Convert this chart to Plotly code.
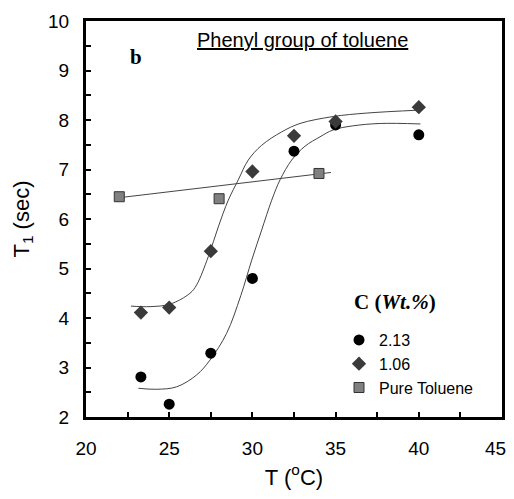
import plotly.graph_objects as go

# Measured data
temp_213 = [23.3, 25.0, 27.5, 30.0, 32.5, 35.0, 40.0]
t1_213 = [2.81, 2.26, 3.29, 4.80, 7.37, 7.90, 7.70]

temp_106 = [23.3, 25.0, 27.5, 30.0, 32.5, 35.0, 40.0]
t1_106 = [4.11, 4.21, 5.35, 6.96, 7.68, 7.97, 8.26]

temp_tol = [22.0, 28.0, 34.0]
t1_tol = [6.45, 6.41, 6.92]

# Fitted curves
fit213_x = [23.15, 24.25, 25.45, 26.65, 27.45, 28.45, 29.3, 29.96, 30.56, 31.16,
            31.66, 32.36, 33.16, 34.06, 34.86, 36.0, 37.68, 40.1]
fit213_y = [2.58, 2.56, 2.61, 2.85, 3.15, 3.69, 4.45, 5.17, 5.78, 6.38,
            6.79, 7.19, 7.47, 7.66, 7.80, 7.88, 7.93, 7.92]

fit106_x = [22.7, 23.85, 25.05, 26.25, 26.65, 27.35, 27.95, 28.55, 29.15, 29.75,
            30.56, 31.76, 32.86, 34.86, 36.87, 40.07]
fit106_y = [4.24, 4.23, 4.28, 4.50, 4.67, 5.24, 5.84, 6.38, 6.79, 7.19,
            7.49, 7.76, 7.93, 8.07, 8.14, 8.20]

fittol_x = [21.74, 34.72]
fittol_y = [6.42, 6.94]

x_ticks = [20, 25, 30, 35, 40, 45]
y_ticks = [2, 3, 4, 5, 6, 7, 8, 9, 10]

# page body has an 8px margin: figure placed at (8, 8) in the 514x499 window
OFF = 8
W, H = 514 - 2 * OFF, 499 - 2 * OFF
PL, PR, PT, PB = 86, 502, 21, 417  # plot box in window pixels


def px(xw):
    return (xw - PL) / (PR - PL)


def py(yw):
    return (PB - yw) / (PB - PT)


# the last x label sits slightly left of its tick (as in the original), drawn as an annotation
x_ticktext = [str(v) for v in x_ticks[:-1]] + [""]

fig = go.Figure()

line_style = dict(color="#444444", width=1)
fig.add_trace(go.Scatter(x=fit213_x, y=fit213_y, mode="lines", line=dict(shape="spline", **line_style),
                         showlegend=False, hoverinfo="skip"))
fig.add_trace(go.Scatter(x=fit106_x, y=fit106_y, mode="lines", line=dict(shape="spline", **line_style),
                         showlegend=False, hoverinfo="skip"))
fig.add_trace(go.Scatter(x=fittol_x, y=fittol_y, mode="lines", line=line_style,
                         showlegend=False, hoverinfo="skip"))

fig.add_trace(go.Scatter(x=temp_213, y=t1_213, mode="markers", name="2.13",
                         marker=dict(symbol="circle", size=11, color="black")))
fig.add_trace(go.Scatter(x=temp_106, y=t1_106, mode="markers", name="1.06",
                         marker=dict(symbol="diamond", size=11, color="#3a3a3a")))
fig.add_trace(go.Scatter(x=temp_tol, y=t1_tol, mode="markers", name="Pure Toluene",
                         marker=dict(symbol="square", size=10, color="#808080",
                                     line=dict(color="#333333", width=1))))

tick_font = dict(family="Liberation Sans, Arial", size=19, color="black")
axis_common = dict(
    showline=True, linewidth=3, linecolor="black", mirror=True,
    ticks="inside", ticklen=5, tickwidth=2, tickcolor="black",
    showgrid=False, zeroline=False,
    tickfont=tick_font,
)

fig.update_layout(
    width=W, height=H,
    margin=dict(l=PL - OFF, r=OFF + W - PR, t=PT - OFF, b=OFF + H - PB, autoexpand=False),
    paper_bgcolor="white", plot_bgcolor="white",
    font=dict(family="Liberation Sans, Arial", color="black"),
    xaxis=dict(range=[20, 45], tickvals=x_ticks, ticktext=x_ticktext,
               minor=dict(dtick=2.5, ticks="inside", ticklen=5, tickwidth=2, tickcolor="black"),
               ticklabelstandoff=12,
               title=dict(text="T (<sup>o</sup>C)", font=dict(size=22), standoff=12),
               **axis_common),
    yaxis=dict(range=[2, 10], tickvals=y_ticks, ticktext=[str(v) for v in y_ticks],
               minor=dict(dtick=0.5, ticks="inside", ticklen=5, tickwidth=2, tickcolor="black"),
               ticklabelstandoff=10,
               title=dict(text="T<sub>1</sub> (sec)", font=dict(size=22), standoff=13),
               **axis_common),
    legend=dict(
        x=px(339), y=py(323), xanchor="left", yanchor="top",
        bgcolor="rgba(0,0,0,0)",
        font=dict(family="Liberation Sans, Arial", size=16, color="black"),
        itemwidth=30,
    ),
    annotations=[
        dict(text=str(x_ticks[-1]), xref="x", yref="paper", x=x_ticks[-1], y=0,
             xanchor="center", yanchor="middle", xshift=-7, yshift=-(448 - PB),
             showarrow=False, font=tick_font),
        dict(text="<b>C (<i>Wt.%</i>)</b>", xref="paper", yref="paper",
             x=px(352), y=py(302), xanchor="left", yanchor="middle", showarrow=False,
             font=dict(family="Liberation Serif, Times New Roman", size=21, color="black")),
        dict(text="<u>Phenyl group of toluene</u>", xref="paper", yref="paper",
             x=px(302), y=py(40), xanchor="center", yanchor="middle", showarrow=False,
             font=dict(family="Liberation Sans, Arial", size=20, color="black")),
        dict(text="<b>b</b>", xref="paper", yref="paper",
             x=px(136), y=py(57), xanchor="center", yanchor="middle", showarrow=False,
             font=dict(family="Liberation Serif, Times New Roman", size=21, color="black")),
    ],
)

fig.write_html("out.html")
